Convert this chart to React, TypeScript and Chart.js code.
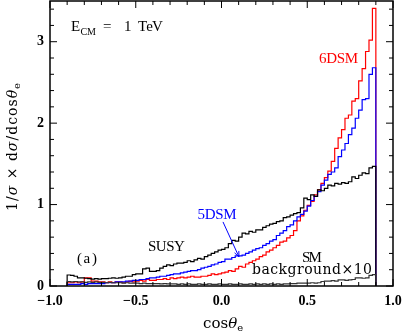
import { useEffect, useRef } from 'react';
import { Chart, registerables } from 'chart.js';
Chart.register(...registerables);

// histogram binning: 90 bins of width 0.02 from -0.9 to 0.9
const binStart = -0.9;
const binWidth = 0.02;

const dsm6 = [
  0.04, 0.04, 0.05, 0.04, 0.05, 0.10, 0.10, 0.06, 0.06, 0.05,
  0.05, 0.04, 0.05, 0.04, 0.05, 0.05, 0.04, 0.05, 0.06, 0.05,
  0.06, 0.07, 0.06, 0.08, 0.07, 0.07, 0.08, 0.08, 0.09, 0.08,
  0.10, 0.09, 0.10, 0.11, 0.10, 0.11, 0.12, 0.11, 0.11, 0.12,
  0.12, 0.13, 0.15, 0.14, 0.15, 0.16, 0.17, 0.19, 0.18, 0.21,
  0.24, 0.23, 0.27, 0.29, 0.31, 0.33, 0.36, 0.38, 0.42, 0.44,
  0.47, 0.50, 0.54, 0.55, 0.59, 0.62, 0.68, 0.80, 0.86, 0.93,
  0.99, 1.04, 1.12, 1.18, 1.26, 1.33, 1.41, 1.53, 1.69, 1.82,
  1.92, 2.06, 2.10, 2.27, 2.30, 2.52, 2.67, 2.88, 3.02, 3.41,
];

const dsm5 = [
  0.02, 0.02, 0.02, 0.02, 0.03, 0.02, 0.03, 0.03, 0.03, 0.03,
  0.03, 0.04, 0.04, 0.04, 0.05, 0.05, 0.05, 0.06, 0.06, 0.07,
  0.07, 0.08, 0.08, 0.09, 0.10, 0.10, 0.11, 0.12, 0.12, 0.13,
  0.14, 0.15, 0.15, 0.16, 0.17, 0.18, 0.19, 0.19, 0.20, 0.22,
  0.23, 0.24, 0.26, 0.27, 0.29, 0.30, 0.33, 0.33, 0.35, 0.37,
  0.37, 0.38, 0.40, 0.42, 0.44, 0.46, 0.47, 0.50, 0.52, 0.55,
  0.57, 0.62, 0.65, 0.68, 0.73, 0.75, 0.80, 0.85, 0.88, 0.92,
  0.98, 1.05, 1.10, 1.16, 1.24, 1.30, 1.37, 1.40, 1.45, 1.59,
  1.67, 1.75, 1.86, 1.94, 2.06, 2.16, 2.29, 2.30, 2.60, 2.68,
];

const susy = [
  0.135, 0.13, 0.12, 0.10, 0.10, 0.095, 0.09, 0.085, 0.09, 0.085,
  0.09, 0.09, 0.095, 0.10, 0.095, 0.10, 0.11, 0.12, 0.12, 0.14,
  0.15, 0.15, 0.21, 0.22, 0.18, 0.18, 0.19, 0.22, 0.24, 0.26,
  0.25, 0.27, 0.28, 0.28, 0.29, 0.31, 0.30, 0.32, 0.34, 0.33,
  0.36, 0.38, 0.40, 0.42, 0.44, 0.45, 0.47, 0.52, 0.56, 0.55,
  0.60, 0.65, 0.64, 0.67, 0.66, 0.69, 0.69, 0.72, 0.74, 0.76,
  0.77, 0.79, 0.80, 0.84, 0.85, 0.87, 0.89, 0.90, 0.96, 1.08,
  1.06, 1.12, 1.10, 1.18, 1.17, 1.20, 1.24, 1.23, 1.26, 1.25,
  1.27, 1.26, 1.28, 1.34, 1.32, 1.36, 1.39, 1.38, 1.45, 1.47,
];

const smBg10 = [
  0.055, 0.05, 0.055, 0.05, 0.05, 0.045, 0.05, 0.045, 0.05, 0.045,
  0.045, 0.04, 0.045, 0.04, 0.04, 0.04, 0.035, 0.04, 0.035, 0.035,
  0.035, 0.03, 0.035, 0.03, 0.03, 0.03, 0.03, 0.025, 0.03, 0.025,
  0.025, 0.025, 0.02, 0.025, 0.02, 0.025, 0.02, 0.02, 0.025, 0.02,
  0.02, 0.025, 0.02, 0.02, 0.025, 0.02, 0.02, 0.025, 0.02, 0.02,
  0.025, 0.02, 0.02, 0.025, 0.02, 0.025, 0.02, 0.025, 0.02, 0.025,
  0.02, 0.025, 0.02, 0.025, 0.025, 0.03, 0.03, 0.035, 0.035, 0.035,
  0.035, 0.04, 0.035, 0.04, 0.055, 0.06, 0.06, 0.065, 0.06, 0.075,
  0.075, 0.07, 0.075, 0.08, 0.10, 0.10, 0.095, 0.10, 0.13, 0.14,
];

const xTickValues = [-1, -0.5, 0, 0.5, 1];
const yTickValues = [0, 1, 2, 3];
const xMinorStep = 0.1;
const yMinorStep = 0.2;

function toSteps(vals: number[]) {
  const pts: { x: number; y: number }[] = [{ x: binStart, y: 0 }];
  vals.forEach((v, i) => pts.push({ x: binStart + i * binWidth, y: v }));
  pts.push({ x: binStart + vals.length * binWidth, y: 0 });
  return pts;
}

type Run = { t: string; font: string; dy?: number };

function drawRuns(ctx: CanvasRenderingContext2D, runs: Run[], x: number, y: number, width?: number) {
  const chars: { ch: string; font: string; dy: number; w: number }[] = [];
  runs.forEach((r) => {
    for (const ch of r.t) chars.push({ ch, font: r.font, dy: r.dy || 0, w: 0 });
  });
  let natural = 0;
  chars.forEach((c) => {
    ctx.font = c.font;
    c.w = ctx.measureText(c.ch).width;
    natural += c.w;
  });
  const extra = width && chars.length > 1 ? (width - natural) / (chars.length - 1) : 0;
  let cx = x;
  chars.forEach((c) => {
    ctx.font = c.font;
    ctx.fillText(c.ch, cx, y + c.dy);
    cx += c.w + extra;
  });
}

const SERIF = '"Liberation Serif", serif';
const WIDE = '"DejaVu Serif", serif';

const decor = {
  id: 'decor',
  afterDraw(chart: any) {
    const { ctx, chartArea: a, scales } = chart;
    const xs = scales.x;
    const ys = scales.y;
    ctx.save();
    ctx.strokeStyle = '#000';
    ctx.lineWidth = 1.5;
    ctx.strokeRect(a.left, a.top, a.right - a.left, a.bottom - a.top);
    ctx.lineWidth = 1;
    const seg = (x1: number, y1: number, x2: number, y2: number) => {
      ctx.beginPath();
      ctx.moveTo(x1, y1);
      ctx.lineTo(x2, y2);
      ctx.stroke();
    };
    for (let k = -10; k <= 10; k++) {
      const px = xs.getPixelForValue(k * xMinorStep);
      const len = k % 5 === 0 ? 7 : 4;
      seg(px, a.bottom, px, a.bottom - len);
      seg(px, a.top, px, a.top + len);
    }
    for (let k = 0; k <= 17; k++) {
      const py = ys.getPixelForValue(k * yMinorStep);
      const len = k % 5 === 0 ? 7 : 4;
      seg(a.left, py, a.left + len, py);
      seg(a.right, py, a.right - len, py);
    }

    const X = (v: number) => xs.getPixelForValue(v);
    const Y = (v: number) => ys.getPixelForValue(v);
    const f15 = `15px ${SERIF}`;

    // E_CM = 1 TeV
    ctx.fillStyle = '#000';
    ctx.textBaseline = 'alphabetic';
    const ex = X(-0.878);
    const ey = Y(3.13);
    drawRuns(ctx, [{ t: 'E', font: f15 }], ex, ey);
    drawRuns(ctx, [{ t: 'CM', font: `10px ${SERIF}` }], ex + 9.5, ey + 3.5);
    drawRuns(ctx, [{ t: '=', font: f15 }], ex + 32, ey);
    drawRuns(ctx, [{ t: '1', font: f15 }], ex + 53, ey);
    drawRuns(ctx, [{ t: 'TeV', font: f15 }], ex + 67, ey, 25);

    ctx.textBaseline = 'middle';
    ctx.fillStyle = '#ff0000';
    drawRuns(ctx, [{ t: '6DSM', font: f15 }], X(0.569), Y(2.79), 39);
    ctx.fillStyle = '#0000ff';
    drawRuns(ctx, [{ t: '5DSM', font: f15 }], X(-0.14), Y(0.873), 39);
    // arrow
    ctx.strokeStyle = '#0000ff';
    ctx.lineWidth = 1;
    const ax1 = X(0.0087), ay1 = Y(0.787), ax2 = X(0.102), ay2 = Y(0.357);
    seg(ax1, ay1, ax2, ay2);
    const ang = Math.atan2(ay2 - ay1, ax2 - ax1);
    const hl = 6, hw = 0.4;
    seg(ax2, ay2, ax2 - hl * Math.cos(ang - hw), ay2 - hl * Math.sin(ang - hw));
    seg(ax2, ay2, ax2 - hl * Math.cos(ang + hw), ay2 - hl * Math.sin(ang + hw));

    ctx.fillStyle = '#000';
    drawRuns(ctx, [{ t: 'SUSY', font: f15 }], X(-0.429), Y(0.483), 37);
    drawRuns(ctx, [{ t: '(a)', font: f15 }], X(-0.843), Y(0.332), 20);
    drawRuns(ctx, [{ t: 'SM', font: f15 }], X(0.469), Y(0.344), 20);
    drawRuns(ctx, [{ t: 'background×10', font: `14px ${WIDE}` }], X(0.178), Y(0.197), 120);

    // x title
    ctx.textBaseline = 'alphabetic';
    drawRuns(
      ctx,
      [
        { t: 'cos', font: `15px ${WIDE}` },
        { t: 'θ', font: `italic 15px ${WIDE}` },
        { t: 'e', font: `10px ${WIDE}`, dy: 3 },
      ],
      203,
      a.bottom + 42
    );

    // y title (rotated)
    ctx.translate(17, a.bottom - 75);
    ctx.rotate(-Math.PI / 2);
    drawRuns(
      ctx,
      [
        { t: '1/', font: `14px ${WIDE}` },
        { t: 'σ', font: `italic 14px ${WIDE}` },
        { t: ' × d', font: `14px ${WIDE}` },
        { t: 'σ', font: `italic 14px ${WIDE}` },
        { t: '/dcos', font: `14px ${WIDE}` },
        { t: 'θ', font: `italic 14px ${WIDE}` },
        { t: 'e', font: `10px ${WIDE}`, dy: 3 },
      ],
      0,
      0,
      128
    );
    ctx.restore();
  },
};

const tickFont = { family: SERIF, size: 14, weight: 'bold' as const };

const zeroPad = (s: any) => {
  s.paddingTop = 0;
  s.paddingBottom = 0;
  s.paddingLeft = 0;
  s.paddingRight = 0;
};

export default function App() {
  const ref = useRef<HTMLCanvasElement>(null);
  useEffect(() => {
    document.body.style.margin = '0';
    const chart = new Chart(ref.current!, {
      type: 'line',
      data: {
        datasets: [
          { label: 'SM background×10', data: toSteps(smBg10), borderColor: '#333333' },
          { label: 'SUSY', data: toSteps(susy), borderColor: '#000000' },
          { label: '5DSM', data: toSteps(dsm5), borderColor: '#0000ff' },
          { label: '6DSM', data: toSteps(dsm6), borderColor: '#ff0000' },
        ].map((d) => ({ ...d, stepped: 'before' as const, fill: false, pointRadius: 0, borderWidth: 1.2 })),
      },
      options: {
        animation: false,
        responsive: true,
        maintainAspectRatio: false,
        layout: { padding: { top: 1, right: 10, left: 0, bottom: 0 } },
        plugins: { legend: { display: false }, tooltip: { enabled: false } },
        scales: {
          x: {
            type: 'linear',
            min: -1,
            max: 1,
            grid: { display: false, drawTicks: false },
            border: { display: false },
            ticks: {
              font: tickFont,
              color: '#000',
              padding: 7,
              maxRotation: 0,
              autoSkip: false,
              callback: (v: any) => (v < 0 ? '−' : '') + Math.abs(Number(v)).toFixed(1),
            },
            afterBuildTicks: (s: any) => {
              s.ticks = xTickValues.map((v) => ({ value: v }));
            },
            afterFit: (s: any) => {
              s.height = 49;
              zeroPad(s);
            },
          },
          y: {
            type: 'linear',
            min: 0,
            max: 3.5,
            grid: { display: false, drawTicks: false },
            border: { display: false },
            ticks: {
              font: tickFont,
              color: '#000',
              padding: 6,
              autoSkip: false,
              callback: (v: any) => String(v),
            },
            afterBuildTicks: (s: any) => {
              s.ticks = yTickValues.map((v) => ({ value: v }));
            },
            afterFit: (s: any) => {
              s.width = 50;
              zeroPad(s);
            },
          },
        },
      },
      plugins: [decor],
    });
    return () => chart.destroy();
  }, []);
  return (
    <div style={{ width: 403, height: 335, position: 'relative' }}>
      <canvas ref={ref} />
    </div>
  );
}
